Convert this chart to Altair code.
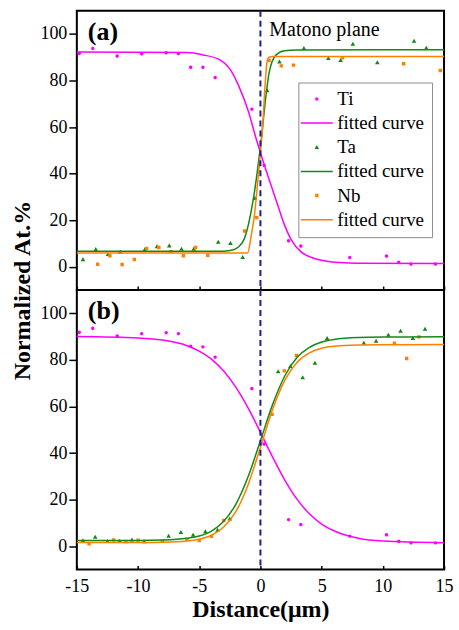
import altair as alt
import pandas as pd

FONT = "Liberation Serif"

series_labels = ["Ti", "fitted curve", "Ta", "fitted curve ", "Nb", "fitted curve  "]
series_colors = ["#FF00FF", "#FF00FF", "#138A13", "#138A13", "#FF8000", "#FF8000"]
series_shapes = ["circle", "M-16,0L16,0", "triangle-up", "M-16,0L16,0", "square", "M-16,0L16,0"]

x_ticks = [-15, -12.5, -10, -7.5, -5, -2.5, 0, 2.5, 5, 7.5, 10, 12.5, 15]
y_ticks = [0, 10, 20, 30, 40, 50, 60, 70, 80, 90, 100]
panel_tags = ["(a)", "(b)"]
plane_label = "Matono plane"

# ---------- panel (a) measured points ----------
ti_a_x = [-14.8, -13.7, -11.7, -9.7, -7.7, -6.7, -5.7, -4.7, -3.7, -0.7, 0.3, 2.3, 3.3, 7.3, 10.3, 11.3, 12.3, 14.3]
ti_a_y = [91.7, 93.8, 90.5, 91.5, 91.9, 91.6, 85.7, 85.7, 81.3, 67.7, 43.6, 11.2, 8.9, 4.0, 4.6, 2.0, 1.2, 1.2]
ta_a_x = [-14.5, -13.45, -12.45, -11.45, -9.45, -8.45, -7.45, -6.45, -5.45, -3.45, -2.45, -1.45, -0.45, 0.55,
          1.55, 3.55, 5.55, 6.55, 7.55, 9.55, 12.55, 13.55]
ta_a_y = [3.1, 7.4, 5.3, 6.3, 7.3, 8.6, 9.0, 7.6, 7.6, 10.6, 10.0, 4.0, 29.4, 75.6,
          88.0, 93.8, 89.5, 88.6, 95.6, 87.7, 96.9, 93.9]
nb_a_x = [-13.3, -12.3, -11.3, -10.3, -9.3, -8.3, -7.3, -6.3, -5.3, -4.3, -1.3, -0.3, 0.7, 1.7, 2.7, 6.7, 11.7, 14.7]
nb_a_y = [1.1, 4.7, 1.0, 3.1, 7.9, 8.3, 6.5, 4.7, 8.3, 4.9, 15.4, 21.1, 88.6, 86.3, 86.6, 89.8, 87.2, 84.3]

# ---------- panel (a) fitted curves ----------
ti_a_cx = [-15, -6, -4.7, -3.3, -2.5, -1.8, -1.0, -0.35, 0, 0.33, 0.87, 1.41, 1.96, 2.5, 3.3, 4.8, 6.5, 8, 15]
ti_a_cy = [92.2, 92.0, 91.0, 88.9, 85.0, 78.0, 67.0, 55.0, 49.0, 43.5, 35.0, 26.5, 18.0, 11.8, 6.5, 3.0, 1.8, 1.5, 1.4]
ta_a_cx = [-15, -3, -2.2, -1.8, -1.3, -0.63, -0.22, 0.05, 0.46, 0.73, 1.28, 1.96, 3, 15]
ta_a_cy = [6.7, 6.7, 7.3, 8.5, 12.2, 27.5, 42.3, 53.8, 73.8, 83.9, 91.0, 92.8, 93.1, 93.2]
nb_a_cx = [-15, -1.05, -0.75, -0.49, -0.22, 0, 0.19, 0.38, 0.54, 0.7, 1.0, 15]
nb_a_cy = [5.9, 5.9, 13.5, 22.2, 36.6, 49.0, 60.9, 78.0, 88.0, 90.0, 90.3, 90.3]

# ---------- panel (b) measured points ----------
ti_b_x = [-14.8, -13.7, -11.7, -9.7, -7.7, -6.7, -5.7, -4.7, -3.7, -0.7, 0.3, 2.3, 3.3, 7.3, 10.3, 11.3, 12.3, 14.3]
ti_b_y = [91.9, 93.6, 90.3, 91.3, 91.7, 91.3, 85.9, 85.6, 81.2, 67.7, 43.9, 11.4, 9.3, 4.3, 4.9, 2.1, 1.4, 1.4]
ta_b_x = [-14.5, -13.5, -12.5, -11.5, -10.5, -9.5, -7.5, -6.5, -5.5, -4.5, -3.5, -2.5, 1.45, 2.45, 3.45, 4.45,
          5.45, 8.45, 9.45, 10.45, 11.45, 12.45, 13.45]
ta_b_y = [2.4, 3.9, 2.0, 2.1, 2.7, 1.9, 4.3, 5.9, 4.7, 6.2, 6.9, 11.7, 74.9, 77.2, 72.4, 78.6,
          89.2, 87.2, 88.0, 90.6, 92.3, 89.2, 93.2]
nb_b_x = [-14.0, -12.0, -11.0, -10.0, -8.0, -6.0, -5.0, -4.0, -3.0, 0.95, 1.95, 2.95, 10.95, 11.95, 12.95]
nb_b_y = [1.0, 2.7, 2.0, 2.6, 2.1, 2.9, 2.4, 4.2, 11.0, 56.6, 75.3, 81.9, 87.2, 80.6, 89.9]

# ---------- panel (b) fitted curves ----------
curve_b_x = [-15, -10, -8, -6, -5, -4, -3, -2, -1, 0, 1, 2, 3, 4, 5, 6, 8, 10, 15]
ti_b_cy = [90.0, 89.4, 88.5, 86.1, 83.8, 80.3, 75.2, 68.2, 59.3, 48.9, 38.2, 28.3, 20.1, 13.9, 9.5, 6.6, 3.4, 2.2, 1.5]
ta_b_cy = [2.4, 2.4, 2.6, 3.4, 4.4, 6.5, 10.7, 18.1, 29.9, 45.3, 60.9, 73.2, 81.1, 85.4, 87.7, 88.8, 89.6, 89.8, 89.9]
nb_b_cy = [1.6, 1.6, 1.7, 2.2, 3.0, 4.7, 8.2, 14.9, 26.5, 42.4, 58.8, 71.3, 79.0, 83.0, 85.0, 85.9, 86.4, 86.5, 86.6]


def table(parts):
    frames = [pd.DataFrame({"x": xs, "y": ys, "label": lab}) for xs, ys, lab in parts]
    return pd.concat(frames, ignore_index=True)


pts_a = table([(ti_a_x, ti_a_y, series_labels[0]), (ta_a_x, ta_a_y, series_labels[2]), (nb_a_x, nb_a_y, series_labels[4])])
crv_a = table([(ti_a_cx, ti_a_cy, series_labels[1]), (ta_a_cx, ta_a_cy, series_labels[3]), (nb_a_cx, nb_a_cy, series_labels[5])])
pts_b = table([(ti_b_x, ti_b_y, series_labels[0]), (ta_b_x, ta_b_y, series_labels[2]), (nb_b_x, nb_b_y, series_labels[4])])
crv_b = table([(curve_b_x, ti_b_cy, series_labels[1]), (curve_b_x, ta_b_cy, series_labels[3]), (curve_b_x, nb_b_cy, series_labels[5])])

W, H = 368, 280


def panel(pts, crv, tag, bottom):
    xs = alt.Scale(domain=[-15, 15], nice=False, zero=False)
    ys = alt.Scale(domain=[-10, 110], nice=False, zero=False)
    cs = alt.Scale(domain=series_labels, range=series_colors)
    ss = alt.Scale(domain=series_labels, range=series_shapes)
    if bottom:
        legend = None
    else:
        legend = alt.Legend(
            title=None, orient="none", legendX=222, legendY=72, padding=7,
            labelFont=FONT, labelFontSize=19, labelColor="black", labelLimit=300,
            symbolSize=4, symbolStrokeWidth=1.5, symbolOffset=2, labelOffset=11,
            rowPadding=4.2, strokeColor="#8c8c8c", fillColor="white", cornerRadius=0,
        )
    x_axis = alt.Axis(
        values=x_ticks, labelExpr="datum.value % 5 === 0 ? '' + datum.value : ''",
        labels=bottom, tickSize=4, offset=-4, domain=False, grid=False,
        tickColor="black", tickWidth=1.5, labelFont=FONT, labelFontSize=18, labelColor="black",
        labelPadding=8, labelFlush=False,
        title="Distance(μm)" if bottom else None,
        titleFont=FONT, titleFontSize=24, titleFontWeight="bold", titleColor="black", titlePadding=2,
    )
    y_kw = dict(
        values=y_ticks, labelExpr="datum.value % 20 === 0 ? '' + datum.value : ''",
        tickSize={"condition": {"test": "datum.value % 20 === 0", "value": 8}, "value": 4},
        domain=False, grid=False, tickColor="black", tickWidth=1.5,
        labelFont=FONT, labelFontSize=18, labelColor="black", labelPadding=2,
        titleFont=FONT, titleFontSize=24, titleFontWeight="bold", titleColor="black", titlePadding=5,
    )
    if bottom:
        y_axis = alt.Axis(title="Normalized At.%", titleY=0, **y_kw)
    else:
        y_axis = alt.Axis(title=None, **y_kw)

    points = alt.Chart(pts).mark_point(filled=False, size=3, strokeWidth=1.7, opacity=1).encode(
        x=alt.X("x:Q", scale=xs, axis=x_axis),
        y=alt.Y("y:Q", scale=ys, axis=y_axis),
        color=alt.Color("label:N", scale=cs, legend=legend),
        shape=alt.Shape("label:N", scale=ss, legend=legend),
    )
    lines = alt.Chart(crv).mark_line(strokeWidth=1.5, interpolate="monotone").encode(
        x=alt.X("x:Q", scale=xs),
        y=alt.Y("y:Q", scale=ys),
        color=alt.Color("label:N", scale=cs, legend=legend),
    )
    rule = alt.Chart(pd.DataFrame({"k": [0]})).mark_rule(
        color="#1F1F8F", strokeDash=[6, 4], strokeWidth=2
    ).encode(x=alt.datum(0))
    tag_text = alt.Chart(pd.DataFrame({"t": [tag]})).mark_text(
        font=FONT, fontSize=26, fontWeight="bold", align="left", baseline="middle", color="black"
    ).encode(x=alt.datum(-14.1), y=alt.datum(101), text="t:N")
    layers = [points, lines, rule, tag_text]
    if not bottom:
        plane = alt.Chart(pd.DataFrame({"t": [plane_label]})).mark_text(
            font=FONT, fontSize=20, align="left", baseline="middle", color="black"
        ).encode(x=alt.datum(0.73), y=alt.datum(101.9), text="t:N")
        layers.append(plane)
    return alt.layer(*layers).properties(width=W, height=H)


top = panel(pts_a, crv_a, panel_tags[0], False)
bot = panel(pts_b, crv_b, panel_tags[1], True)

chart = (
    alt.vconcat(top, bot, spacing=0, bounds="flush")
    .resolve_scale(color="independent", shape="independent")
    .properties(padding={"left": 10, "top": 8, "right": 5, "bottom": 5})
    .configure(font=FONT)
    .configure_view(stroke="black", strokeWidth=2)
)

chart.save("out.html", embed_options={"renderer": "svg", "actions": False})
